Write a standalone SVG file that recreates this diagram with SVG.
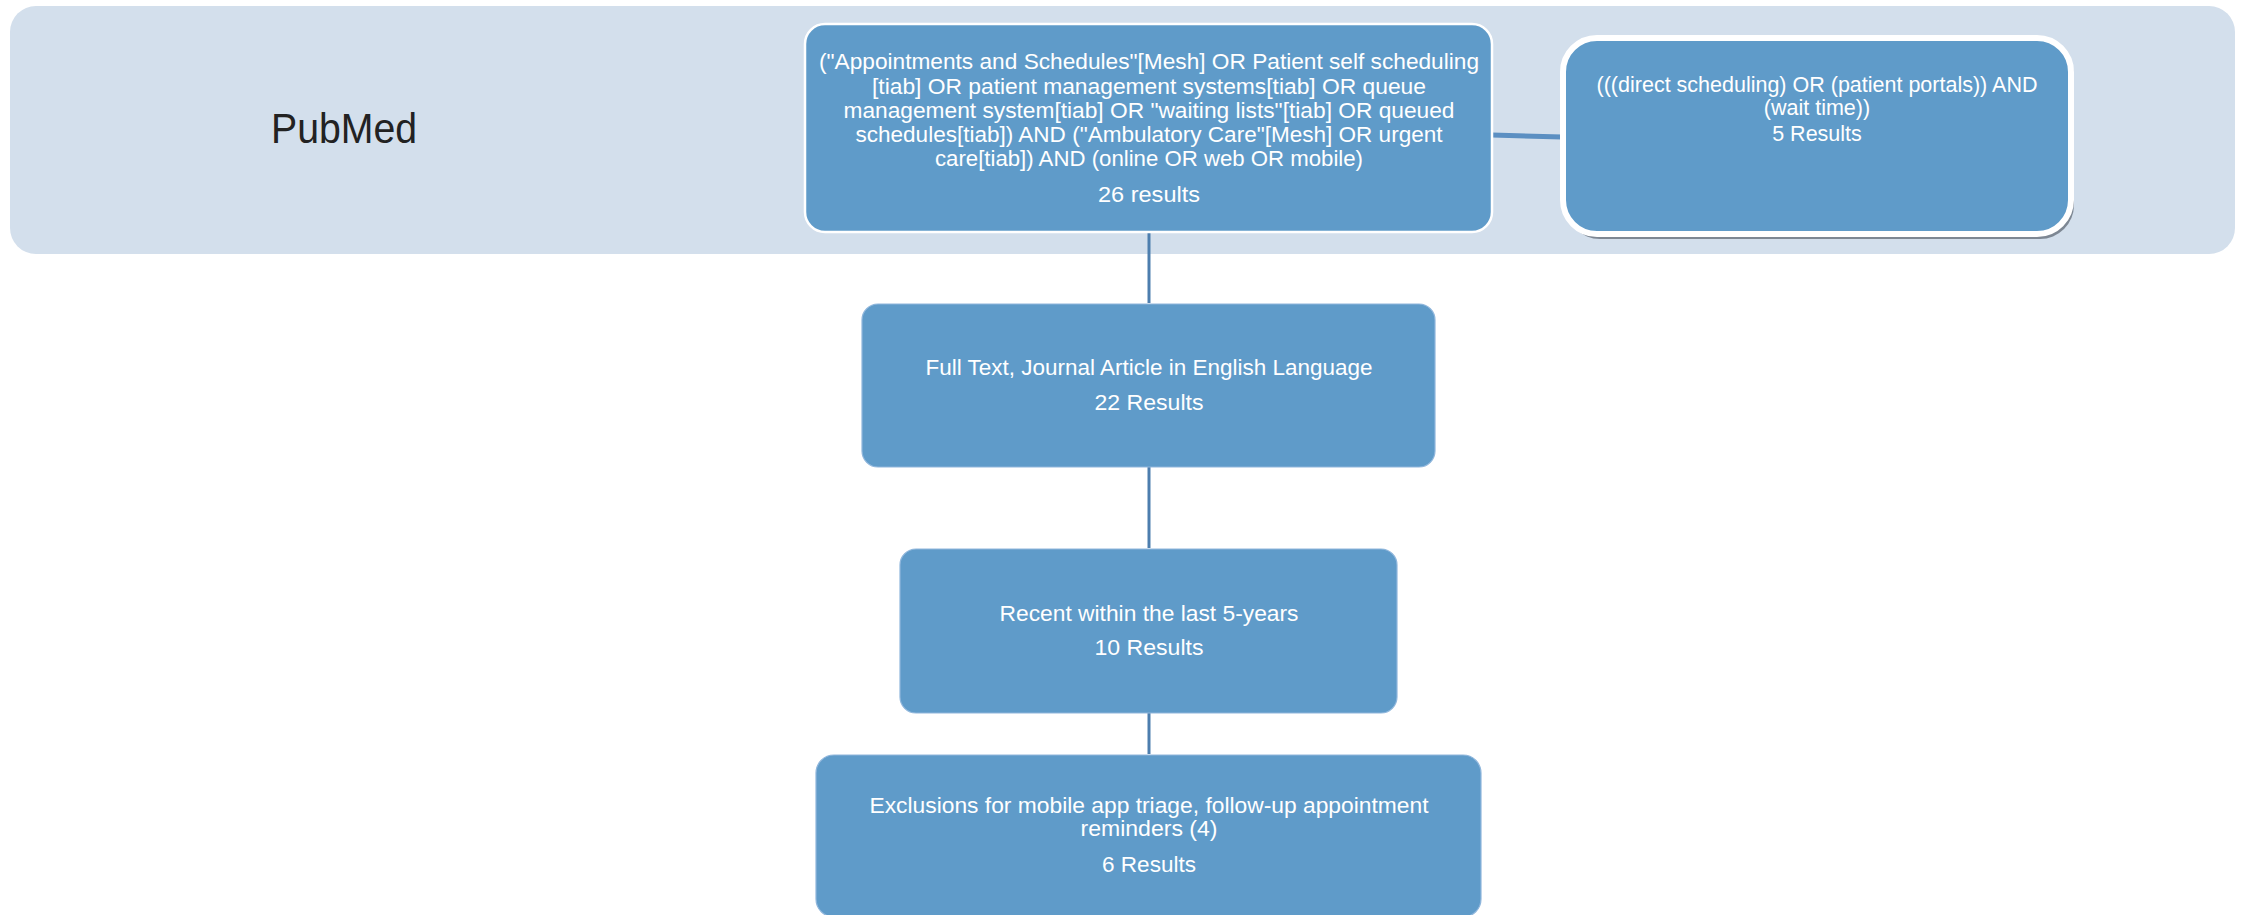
<svg xmlns="http://www.w3.org/2000/svg" width="2241" height="915" viewBox="0 0 2241 915">
<style>
.band{fill:#d3dfec}
.box{fill:#5f9bc9;stroke:#8fb6dc;stroke-width:1.2}
.box1{fill:#5f9bc9;stroke:#ffffff;stroke-width:2.5}
.box2{fill:#5f9bc9;stroke:#ffffff;stroke-width:6}
.shadow{fill:#7d8793}
.t{font-family:"Liberation Sans",Arial,sans-serif;font-size:22px;fill:#ffffff;text-anchor:middle}
.ta{font-family:"Liberation Sans",Arial,sans-serif;font-size:21.5px;fill:#ffffff;text-anchor:middle}
.title{font-family:"Liberation Sans",Arial,sans-serif;font-size:42px;fill:#222222;text-anchor:middle}
.vline{stroke:#4d7eae;stroke-width:3;fill:none}
.hline{stroke:#5b8fc2;stroke-width:5;fill:none}
</style>
<g id="pubmed-band">
<rect class="band" x="10" y="6" width="2225" height="248" rx="26"/>
<text class="title" x="344" y="143" textLength="146" lengthAdjust="spacingAndGlyphs">PubMed</text>
</g>
<g id="connectors">
<line class="hline" x1="1492" y1="135" x2="1562" y2="137"/>
<line class="vline" x1="1149" y1="232" x2="1149" y2="303"/>
<line class="vline" x1="1149" y1="467" x2="1149" y2="548"/>
<line class="vline" x1="1149" y1="713" x2="1149" y2="754"/>
</g>
<g id="node-search">
<rect class="box1" x="805" y="24" width="687" height="208" rx="20"/>
<text class="t" x="1149" y="69" textLength="660" lengthAdjust="spacingAndGlyphs">("Appointments and Schedules"[Mesh] OR Patient self scheduling</text>
<text class="t" x="1149" y="94" textLength="554" lengthAdjust="spacingAndGlyphs">[tiab] OR patient management systems[tiab] OR queue</text>
<text class="t" x="1149" y="118" textLength="611" lengthAdjust="spacingAndGlyphs">management system[tiab] OR "waiting lists"[tiab] OR queued</text>
<text class="t" x="1149" y="142" textLength="587" lengthAdjust="spacingAndGlyphs">schedules[tiab]) AND ("Ambulatory Care"[Mesh] OR urgent</text>
<text class="t" x="1149" y="166" textLength="428" lengthAdjust="spacingAndGlyphs">care[tiab]) AND (online OR web OR mobile)</text>
<text class="t" x="1149" y="202" textLength="102" lengthAdjust="spacingAndGlyphs">26 results</text>
</g>
<g id="node-direct">
<rect class="shadow" x="1566" y="43" width="508" height="196" rx="34"/>
<rect class="box2" x="1563" y="38" width="508" height="196" rx="34"/>
<text class="ta" x="1817" y="92">(((direct scheduling) OR (patient portals)) AND</text>
<text class="ta" x="1817" y="115">(wait time))</text>
<text class="ta" x="1817" y="141">5 Results</text>
</g>
<g id="node-fulltext">
<rect class="box" x="862" y="304" width="573" height="163" rx="16"/>
<text class="t" x="1149" y="375" textLength="447" lengthAdjust="spacingAndGlyphs">Full Text, Journal Article in English Language</text>
<text class="t" x="1149" y="410" textLength="109" lengthAdjust="spacingAndGlyphs">22 Results</text>
</g>
<g id="node-recent">
<rect class="box" x="900" y="549" width="497" height="164" rx="16"/>
<text class="t" x="1149" y="621" textLength="299" lengthAdjust="spacingAndGlyphs">Recent within the last 5-years</text>
<text class="t" x="1149" y="655" textLength="109" lengthAdjust="spacingAndGlyphs">10 Results</text>
</g>
<g id="node-exclusions">
<rect class="box" x="816" y="755" width="665" height="162" rx="18"/>
<text class="t" x="1149" y="813" textLength="559" lengthAdjust="spacingAndGlyphs">Exclusions for mobile app triage, follow-up appointment</text>
<text class="t" x="1149" y="836" textLength="137" lengthAdjust="spacingAndGlyphs">reminders (4)</text>
<text class="t" x="1149" y="872" textLength="94" lengthAdjust="spacingAndGlyphs">6 Results</text>
</g>
</svg>
